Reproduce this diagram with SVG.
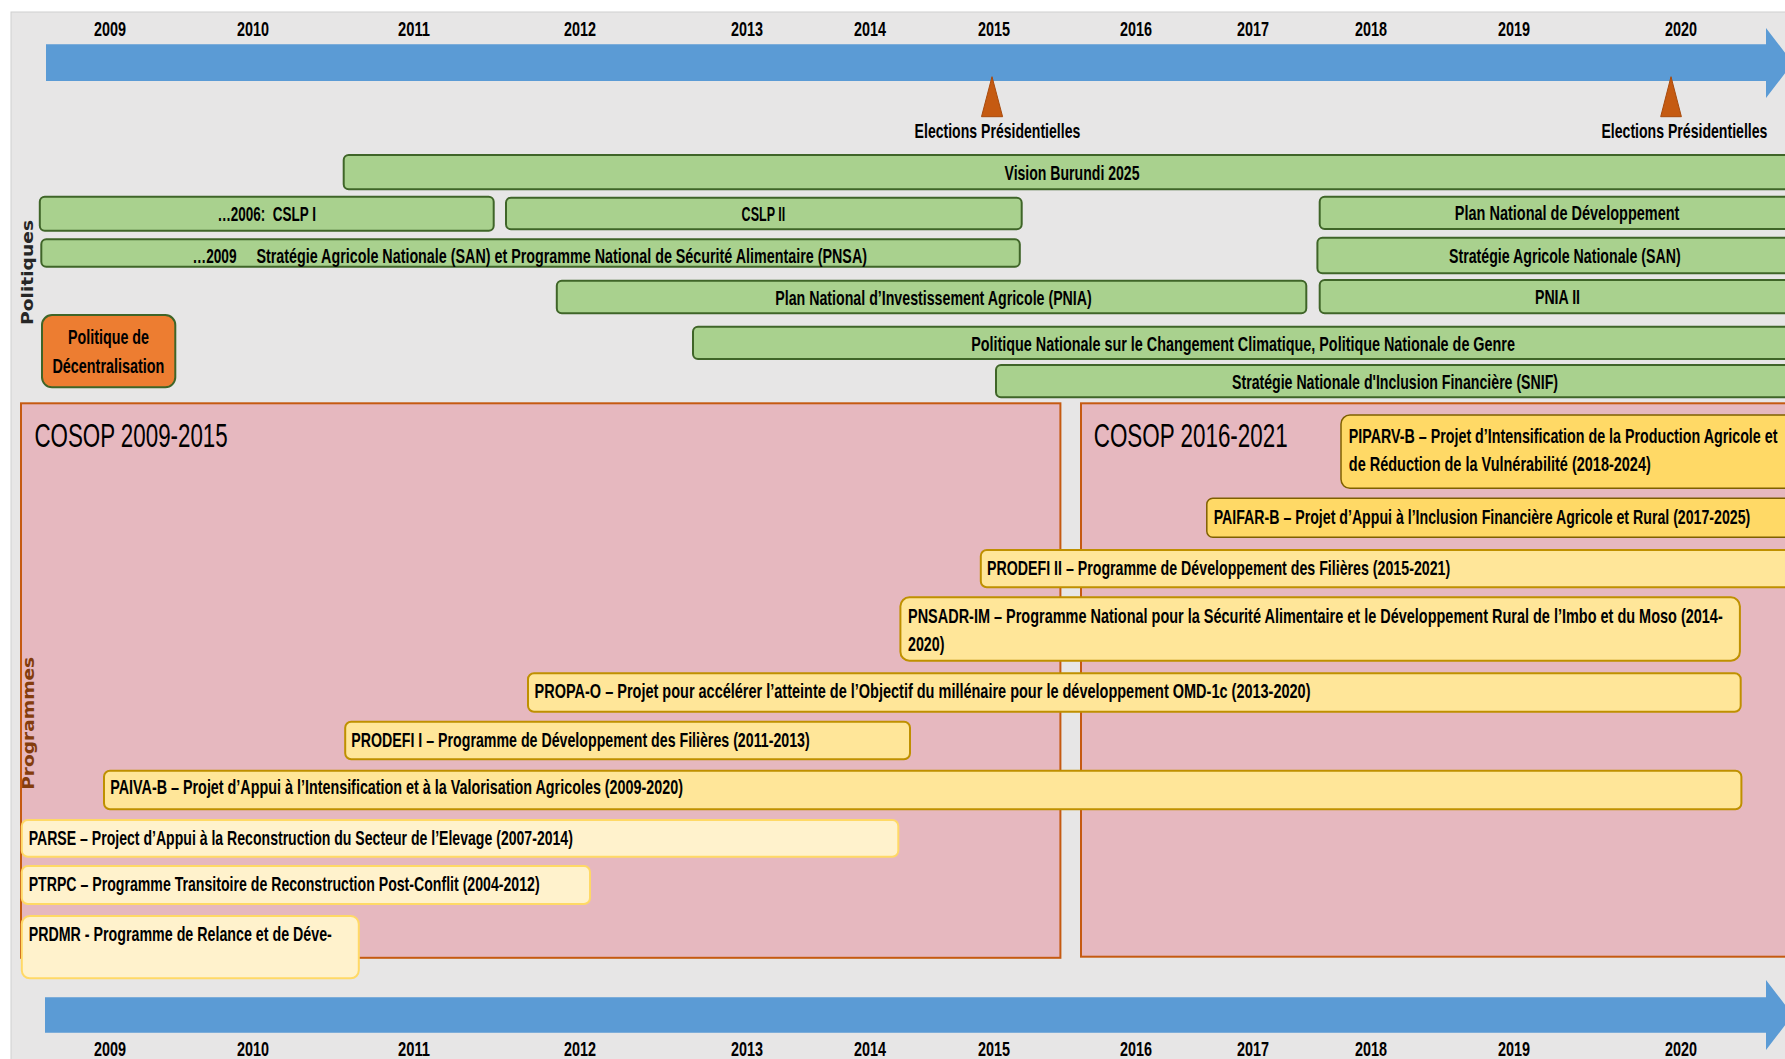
<svg xmlns="http://www.w3.org/2000/svg" width="1785" height="1059" viewBox="0 0 1785 1059">
<style>
.t{font-family:"Liberation Sans Narrow","Liberation Sans",Arial,sans-serif;font-weight:bold;font-size:20.5px;fill:#000}
.yr{font-family:"Liberation Sans Narrow","Liberation Sans",Arial,sans-serif;font-weight:bold;font-size:21px;fill:#000;text-anchor:middle}
.cos{font-family:"Liberation Sans Narrow","Liberation Sans",Arial,sans-serif;font-size:34px;fill:#000}
.vl{font-family:"DejaVu Sans","Liberation Sans",sans-serif;font-weight:bold;font-size:15px;text-anchor:middle}
.g{fill:#a9d18e;stroke:#3f6528;stroke-width:2}
.o{fill:#ed7d31;stroke:#3f6528;stroke-width:2}
.y{fill:#ffe699;stroke:#bf9000;stroke-width:2}
.yl{fill:#fff2cc;stroke:#ffd966;stroke-width:2}
.yd{fill:#ffd966;stroke:#7f6000;stroke-width:1.5}
.pk{fill:#e6b8bf;stroke:#c55a11;stroke-width:2}
.ar{fill:#5b9bd5}
.tri{fill:#c55a11;stroke:#a84a0c;stroke-width:1}
</style>
<rect x="0" y="0" width="1785" height="1059" fill="#ffffff"/>
<rect x="11" y="12" width="1780" height="1060" fill="#e7e6e6" stroke="#d0d0d0" stroke-width="1"/>

<g id="timeline">
<path class="ar" d="M46,44.3 H1766 V28 L1793,63 L1766,98 V81 H46 Z"/>
<path class="ar" d="M45,997.3 H1766 V980 L1793,1015 L1766,1050 V1032.7 H45 Z"/>
<g id="years-top">
<text class="yr" x="110" y="35.5" textLength="32" lengthAdjust="spacingAndGlyphs">2009</text>
<text class="yr" x="253" y="35.5" textLength="32" lengthAdjust="spacingAndGlyphs">2010</text>
<text class="yr" x="414" y="35.5" textLength="32" lengthAdjust="spacingAndGlyphs">2011</text>
<text class="yr" x="580" y="35.5" textLength="32" lengthAdjust="spacingAndGlyphs">2012</text>
<text class="yr" x="747" y="35.5" textLength="32" lengthAdjust="spacingAndGlyphs">2013</text>
<text class="yr" x="870" y="35.5" textLength="32" lengthAdjust="spacingAndGlyphs">2014</text>
<text class="yr" x="994" y="35.5" textLength="32" lengthAdjust="spacingAndGlyphs">2015</text>
<text class="yr" x="1136" y="35.5" textLength="32" lengthAdjust="spacingAndGlyphs">2016</text>
<text class="yr" x="1253" y="35.5" textLength="32" lengthAdjust="spacingAndGlyphs">2017</text>
<text class="yr" x="1371" y="35.5" textLength="32" lengthAdjust="spacingAndGlyphs">2018</text>
<text class="yr" x="1514" y="35.5" textLength="32" lengthAdjust="spacingAndGlyphs">2019</text>
<text class="yr" x="1681" y="35.5" textLength="32" lengthAdjust="spacingAndGlyphs">2020</text>
</g>
<g id="years-bottom">
<text class="yr" x="110" y="1056" textLength="32" lengthAdjust="spacingAndGlyphs">2009</text>
<text class="yr" x="253" y="1056" textLength="32" lengthAdjust="spacingAndGlyphs">2010</text>
<text class="yr" x="414" y="1056" textLength="32" lengthAdjust="spacingAndGlyphs">2011</text>
<text class="yr" x="580" y="1056" textLength="32" lengthAdjust="spacingAndGlyphs">2012</text>
<text class="yr" x="747" y="1056" textLength="32" lengthAdjust="spacingAndGlyphs">2013</text>
<text class="yr" x="870" y="1056" textLength="32" lengthAdjust="spacingAndGlyphs">2014</text>
<text class="yr" x="994" y="1056" textLength="32" lengthAdjust="spacingAndGlyphs">2015</text>
<text class="yr" x="1136" y="1056" textLength="32" lengthAdjust="spacingAndGlyphs">2016</text>
<text class="yr" x="1253" y="1056" textLength="32" lengthAdjust="spacingAndGlyphs">2017</text>
<text class="yr" x="1371" y="1056" textLength="32" lengthAdjust="spacingAndGlyphs">2018</text>
<text class="yr" x="1514" y="1056" textLength="32" lengthAdjust="spacingAndGlyphs">2019</text>
<text class="yr" x="1681" y="1056" textLength="32" lengthAdjust="spacingAndGlyphs">2020</text>
</g>
</g>

<g id="connectors"></g>

<g id="election-2015">
<polygon class="tri" points="992,76.7 981.5,116.7 1002.6,116.7"/>
<text class="t" x="914.6" y="137.5" textLength="165.7" lengthAdjust="spacingAndGlyphs">Elections Présidentielles</text>
</g>
<g id="election-2020">
<polygon class="tri" points="1671,76.7 1660.7,116.7 1681.4,116.7"/>
<text class="t" x="1601.4" y="137.5" textLength="166" lengthAdjust="spacingAndGlyphs">Elections Présidentielles</text>
</g>

<text class="vl" transform="translate(33,272.5) rotate(-90)" fill="#262626" textLength="105" lengthAdjust="spacingAndGlyphs">Politiques</text>

<g id="vision">
<rect class="g" x="343.7" y="155" width="1460" height="34.3" rx="5"/>
<text class="t" x="1004.5" y="179.5" textLength="135" lengthAdjust="spacingAndGlyphs">Vision Burundi 2025</text>
</g>
<g id="cslp1">
<rect class="g" x="39.8" y="196.7" width="453.9" height="34" rx="5"/>
<text class="t" x="217.4" y="221" textLength="98.6" lengthAdjust="spacingAndGlyphs" xml:space="preserve">…2006:  CSLP I</text>
</g>
<g id="cslp2">
<rect class="g" x="506" y="197.7" width="515.7" height="31.6" rx="5"/>
<text class="t" x="741.6" y="221" textLength="43.6" lengthAdjust="spacingAndGlyphs">CSLP II</text>
</g>
<g id="san-pnsa">
<rect class="g" x="41.3" y="239.3" width="978.5" height="27.4" rx="5"/>
<text class="t" y="262.5"><tspan x="192.5" textLength="44" lengthAdjust="spacingAndGlyphs">…2009</tspan><tspan x="256.4" textLength="610.6" lengthAdjust="spacingAndGlyphs">Stratégie Agricole Nationale (SAN) et Programme National de Sécurité Alimentaire (PNSA)</tspan></text>
</g>
<g id="pnia">
<rect class="g" x="556.8" y="280.7" width="749.5" height="32.6" rx="5"/>
<text class="t" x="775.3" y="304.5" textLength="316.5" lengthAdjust="spacingAndGlyphs">Plan National d’Investissement Agricole (PNIA)</text>
</g>
<g id="pncc">
<rect class="g" x="693" y="326.7" width="1110" height="32.3" rx="5"/>
<text class="t" x="971.2" y="350.5" textLength="543.7" lengthAdjust="spacingAndGlyphs">Politique Nationale sur le Changement Climatique, Politique Nationale de Genre</text>
</g>
<g id="snif">
<rect class="g" x="996" y="365" width="810" height="32.3" rx="5"/>
<text class="t" x="1232" y="388.5" textLength="326" lengthAdjust="spacingAndGlyphs">Stratégie Nationale d'Inclusion Financière (SNIF)</text>
</g>
<g id="pnd">
<rect class="g" x="1319.7" y="196.7" width="490" height="32.3" rx="5"/>
<text class="t" x="1454.8" y="220" textLength="224.6" lengthAdjust="spacingAndGlyphs">Plan National de Développement</text>
</g>
<g id="san2">
<rect class="g" x="1317.4" y="237.7" width="490" height="35.6" rx="5"/>
<text class="t" x="1449" y="262.5" textLength="231.6" lengthAdjust="spacingAndGlyphs">Stratégie Agricole Nationale (SAN)</text>
</g>
<g id="pnia2">
<rect class="g" x="1319.7" y="280" width="490" height="33.3" rx="5"/>
<text class="t" x="1535" y="304" textLength="45" lengthAdjust="spacingAndGlyphs">PNIA II</text>
</g>
<g id="decentralisation">
<rect class="o" x="42" y="315" width="133.3" height="72.3" rx="10"/>
<text class="t" x="68" y="344" textLength="81" lengthAdjust="spacingAndGlyphs">Politique de</text>
<text class="t" x="52.4" y="372.5" textLength="112" lengthAdjust="spacingAndGlyphs">Décentralisation</text>
</g>

<g id="cosop-2009-2015">
<rect class="pk" x="21" y="403.3" width="1039.4" height="554.5"/>
<text class="cos" x="34.4" y="447" textLength="193.3" lengthAdjust="spacingAndGlyphs">COSOP 2009-2015</text>
</g>
<g id="cosop-2016-2021">
<rect class="pk" x="1081" y="403.3" width="720" height="553.4"/>
<text class="cos" x="1093.7" y="447" textLength="194" lengthAdjust="spacingAndGlyphs">COSOP 2016-2021</text>
</g>

<text class="vl" transform="translate(34,723.3) rotate(-90)" fill="#843c0c" textLength="133" lengthAdjust="spacingAndGlyphs">Programmes</text>

<g id="piparv">
<rect class="yd" x="1341" y="415" width="460" height="73.3" rx="9"/>
<text class="t" x="1348.8" y="443" textLength="428.6" lengthAdjust="spacingAndGlyphs">PIPARV-B – Projet d’Intensification de la Production Agricole et</text>
<text class="t" x="1348.8" y="470.5" textLength="302" lengthAdjust="spacingAndGlyphs">de Réduction de la Vulnérabilité (2018-2024)</text>
</g>
<g id="paifar">
<rect class="yd" x="1206.8" y="498.3" width="600" height="39" rx="6"/>
<text class="t" x="1213.7" y="523.5" textLength="536.6" lengthAdjust="spacingAndGlyphs">PAIFAR-B – Projet d’Appui à l’Inclusion Financière Agricole et Rural (2017-2025)</text>
</g>
<g id="prodefi2">
<rect class="y" x="980.8" y="550" width="825" height="37.3" rx="6"/>
<text class="t" x="987" y="575" textLength="463.2" lengthAdjust="spacingAndGlyphs">PRODEFI II – Programme de Développement des Filières (2015-2021)</text>
</g>
<g id="pnsadr">
<rect class="y" x="900.4" y="597.3" width="839.5" height="63.4" rx="9"/>
<text class="t" x="908" y="623" textLength="814.7" lengthAdjust="spacingAndGlyphs">PNSADR-IM – Programme National pour la Sécurité Alimentaire et le Développement Rural de l’Imbo et du Moso (2014-</text>
<text class="t" x="908" y="651" textLength="36.4" lengthAdjust="spacingAndGlyphs">2020)</text>
</g>
<g id="propa">
<rect class="y" x="528" y="673.3" width="1212.7" height="38.4" rx="6"/>
<text class="t" x="534.6" y="697.5" textLength="775.9" lengthAdjust="spacingAndGlyphs">PROPA-O – Projet pour accélérer l’atteinte de l’Objectif du millénaire pour le développement OMD-1c (2013-2020)</text>
</g>
<g id="prodefi1">
<rect class="y" x="345.2" y="721.7" width="564.8" height="37.6" rx="6"/>
<text class="t" x="351.3" y="746.5" textLength="458.4" lengthAdjust="spacingAndGlyphs">PRODEFI I – Programme de Développement des Filières (2011-2013)</text>
</g>
<g id="paiva">
<rect class="y" x="104" y="770.7" width="1637.4" height="38.6" rx="6"/>
<text class="t" x="110.2" y="793.5" textLength="572.8" lengthAdjust="spacingAndGlyphs">PAIVA-B – Projet d’Appui à l’Intensification et à la Valorisation Agricoles (2009-2020)</text>
</g>
<g id="parse">
<rect class="yl" x="21.8" y="820" width="876.5" height="36.7" rx="6"/>
<text class="t" x="28.7" y="844.5" textLength="544.2" lengthAdjust="spacingAndGlyphs">PARSE – Project d’Appui à la Reconstruction du Secteur de l’Elevage (2007-2014)</text>
</g>
<g id="ptrpc">
<rect class="yl" x="21.8" y="866" width="568.2" height="38" rx="6"/>
<text class="t" x="28.7" y="890.5" textLength="510.9" lengthAdjust="spacingAndGlyphs">PTRPC – Programme Transitoire de Reconstruction Post-Conflit (2004-2012)</text>
</g>
<g id="prdmr">
<rect class="yl" x="21.8" y="916" width="337" height="62.3" rx="8"/>
<text class="t" x="28.7" y="941" textLength="303.1" lengthAdjust="spacingAndGlyphs">PRDMR - Programme de Relance et de Déve-</text>
</g>
</svg>
